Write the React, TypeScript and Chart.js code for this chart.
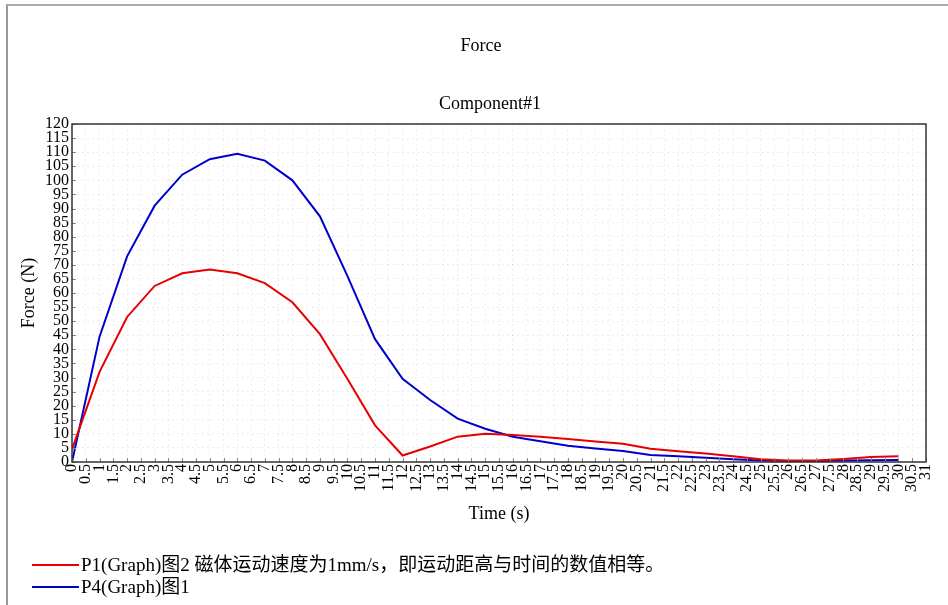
import React, { useEffect, useRef } from 'react';
import { Chart, registerables } from 'chart.js';

Chart.register(...registerables);

// ---- data ----
const times = [0, 1, 2, 3, 4, 5, 6, 7, 8, 9, 10, 11, 12, 13, 14, 15, 16, 17, 18, 19, 20, 21, 22, 23, 24, 25, 26, 27, 28, 29, 30];
const p1Force = [4.5, 32, 51.5, 62.5, 67, 68.3, 67, 63.5, 56.7, 45.4, 29.5, 13, 2.3, 5.5, 9, 10, 9.6, 9, 8.2, 7.3, 6.5, 4.7, 3.8, 3, 2, 1, 0.5, 0.5, 1.1, 1.8, 2];
const p4Force = [0, 44.5, 73, 91, 102, 107.5, 109.4, 107, 100, 87.2, 66, 43.6, 29.5, 22, 15.4, 11.8, 9, 7.4, 5.8, 4.8, 3.9, 2.5, 2, 1.5, 1, 0.5, 0.3, 0.3, 0.5, 0.6, 0.7];
const seriesNames = ['P1(Graph)图2 磁体运动速度为1mm/s，即运动距高与时间的数值相等。', 'P4(Graph)图1'];
const seriesColors = ['rgb(230,0,0)', 'rgb(0,0,205)'];
const xMin = 0, xMax = 31, xStep = 0.5;
const yMin = 0, yMax = 120, yStep = 5;
const titleText = 'Force';
const subtitleText = 'Component#1';
const xTitle = 'Time (s)';
const yTitle = 'Force (N)';

const SERIF = '"Liberation Serif", "Times New Roman", serif';
const LEGEND_FONT = '"Liberation Serif", "Noto Sans CJK SC", serif';

const fmt = (v: any) => String(Math.round(Number(v) * 10) / 10);

const framePlugin = {
  id: 'frameTicks',
  afterDatasetsDraw(chart: any) {
    const { ctx, chartArea: a, scales } = chart;
    ctx.save();
    ctx.strokeStyle = '#888';
    ctx.lineWidth = 1;
    ctx.beginPath();
    scales.x.ticks.forEach((t: any) => {
      const px = Math.round(scales.x.getPixelForValue(t.value)) + 0.5;
      ctx.moveTo(px, a.bottom);
      ctx.lineTo(px, a.bottom - 4);
    });
    scales.y.ticks.forEach((t: any) => {
      const py = Math.round(scales.y.getPixelForValue(t.value)) + 0.5;
      ctx.moveTo(a.left, py);
      ctx.lineTo(a.left + 4, py);
    });
    ctx.stroke();
    ctx.strokeStyle = '#333';
    ctx.lineWidth = 1.5;
    ctx.strokeRect(a.left, a.top, a.right - a.left, a.bottom - a.top);
    ctx.restore();
  },
};

export default function App() {
  const canvasRef = useRef<HTMLCanvasElement | null>(null);

  useEffect(() => {
    const canvas = canvasRef.current;
    if (!canvas) return;
    const chart = new Chart(canvas, {
      type: 'line',
      data: {
        datasets: [
          {
            label: seriesNames[0],
            data: times.map((t, i) => ({ x: t, y: p1Force[i] })),
            borderColor: seriesColors[0],
            backgroundColor: seriesColors[0],
            borderWidth: 2,
            pointRadius: 0,
            tension: 0,
            fill: false,
          },
          {
            label: seriesNames[1],
            data: times.map((t, i) => ({ x: t, y: p4Force[i] })),
            borderColor: seriesColors[1],
            backgroundColor: seriesColors[1],
            borderWidth: 2,
            pointRadius: 0,
            tension: 0,
            fill: false,
          },
        ],
      },
      options: {
        animation: false,
        responsive: false,
        maintainAspectRatio: false,
        layout: { padding: { left: 0, top: 124, right: 22, bottom: 73 } },
        plugins: {
          legend: { display: false },
          title: { display: false },
          tooltip: { enabled: false },
        },
        scales: {
          x: {
            type: 'linear',
            min: xMin,
            max: xMax,
            afterFit: (s: any) => { s.height = 70; },
            ticks: {
              stepSize: xStep,
              autoSkip: false,
              minRotation: 90,
              maxRotation: 90,
              padding: 2,
              color: '#000',
              font: { family: SERIF, size: 16 },
              callback: (v: any) => fmt(v),
            },
            grid: { color: 'rgba(0,0,0,0.07)', drawTicks: false },
            border: { display: false, dash: [2, 3] },
            title: {
              display: true,
              text: xTitle,
              color: '#000',
              font: { family: SERIF, size: 18 },
              padding: { top: 0, bottom: 7 },
            },
          },
          y: {
            type: 'linear',
            min: yMin,
            max: yMax,
            afterFit: (s: any) => { s.width = 72; },
            ticks: {
              stepSize: yStep,
              autoSkip: false,
              padding: 3,
              color: '#000',
              font: { family: SERIF, size: 16 },
              callback: (v: any) => fmt(v),
            },
            grid: { color: 'rgba(0,0,0,0.07)', drawTicks: false },
            border: { display: false, dash: [2, 3] },
            title: {
              display: true,
              text: yTitle,
              color: '#000',
              font: { family: SERIF, size: 18 },
              padding: { top: 18, bottom: 0 },
            },
          },
        },
      },
      plugins: [framePlugin],
    } as any);
    return () => chart.destroy();
  }, []);

  const text = (content: string, cx: number, cy: number, size: number) => (
    <div
      style={{
        position: 'absolute',
        left: cx,
        top: cy - size * 0.6,
        transform: 'translateX(-50%)',
        whiteSpace: 'nowrap',
        fontFamily: SERIF,
        fontSize: size,
        lineHeight: `${size * 1.2}px`,
        color: '#000',
      }}
    >
      {content}
    </div>
  );

  const legendRow = (label: string, color: string, cy: number) => (
    <div key={label} style={{ position: 'absolute', left: 32, top: cy - 11, height: 22, display: 'flex', alignItems: 'center', whiteSpace: 'nowrap' }}>
      <span style={{ display: 'inline-block', width: 47, height: 0, borderTop: `2px solid ${color}`, marginRight: 2 }} />
      <span style={{ fontFamily: LEGEND_FONT, fontSize: 19, lineHeight: '22px', color: '#000' }}>{label}</span>
    </div>
  );

  return (
    <div style={{ position: 'absolute', left: 0, top: 0, width: 948, height: 605, background: '#fff', overflow: 'hidden' }}>
      <canvas ref={canvasRef} width={948} height={605} style={{ display: 'block', position: 'absolute', left: 0, top: 0 }} />
      <div style={{ position: 'absolute', left: 6, top: 4, width: 960, height: 620, borderLeft: '2px solid #999', borderTop: '2px solid #aaa' }} />
      {text(titleText, 481, 46, 18)}
      {text(subtitleText, 490, 104, 18)}
      {legendRow(seriesNames[0], seriesColors[0], 565)}
      {legendRow(seriesNames[1], seriesColors[1], 587)}
    </div>
  );
}
